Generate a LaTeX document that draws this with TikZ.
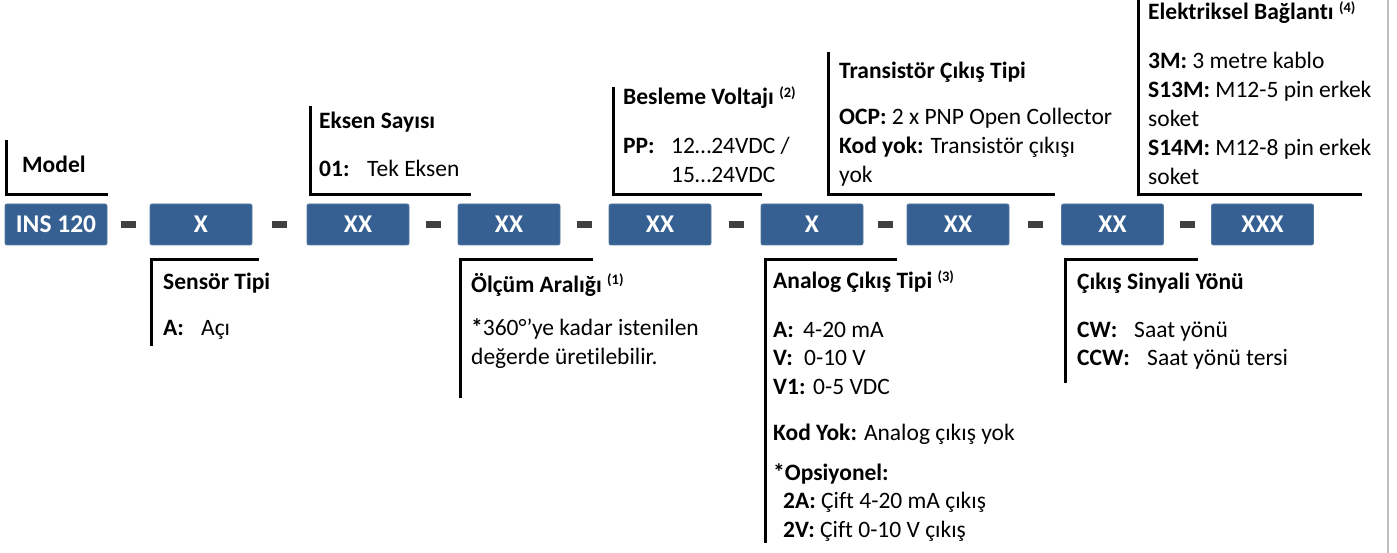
\documentclass[tikz,border=0pt]{standalone}
\usepackage{fontspec}
\setmainfont[Ligatures=NoCommon]{Carlito}
\usetikzlibrary{calc}
\definecolor{boxblue}{RGB}{54,96,146}
\definecolor{dashgray}{RGB}{64,64,64}
\definecolor{edgegray}{RGB}{191,191,191}
\newcommand{\supnum}[1]{\raisebox{0.3em}{\fontsize{14.5}{14.5}\selectfont\bfseries(#1)}}
\begin{document}
\begin{tikzpicture}[x=1pt,y=-1pt,
 codebox/.style={fill=boxblue, draw=boxblue!85!white, line width=0.8pt, rounded corners=2pt,
   minimum width=102pt, minimum height=41pt, inner sep=0pt, text=white,
   font=\fontsize{25.5}{25.5}\selectfont\bfseries},
 sepbar/.style={fill=dashgray, minimum width=15pt, minimum height=7pt, inner sep=0pt},
 bracket/.style={line width=3pt, draw=black},
 txt/.style={anchor=base west, inner sep=0pt, font=\fontsize{23.5}{28}\selectfont},
 ttl/.style={txt, font=\fontsize{23.5}{28}\selectfont\bfseries},
]
\useasboundingbox (0,0) rectangle (1397,553);
\fill[white] (0,0) rectangle (1397,553);
\draw[edgegray, line width=2pt] (1388,0) -- (1388,553);

% code boxes
\node[codebox] (b1) at (56,224.5) {INS 120};
\node[codebox] (b2) at (201,224.5) {X};
\node[codebox] (b3) at (358,224.5) {XX};
\node[codebox] (b4) at (509,224.5) {XX};
\node[codebox] (b5) at (660,224.5) {XX};
\node[codebox] (b6) at (812,224.5) {X};
\node[codebox] (b7) at (958,224.5) {XX};
\node[codebox] (b8) at (1112.5,224.5) {XX};
\node[codebox] (b9) at (1262.5,224.5) {XXX};

% separators
\node[sepbar] (s1) at ($(b1.east)!0.5!(b2.west)$) {};
\node[sepbar] (s2) at ($(b2.east)!0.5!(b3.west)$) {};
\node[sepbar] (s3) at ($(b3.east)!0.5!(b4.west)$) {};
\node[sepbar] (s4) at ($(b4.east)!0.5!(b5.west)$) {};
\node[sepbar] (s5) at ($(b5.east)!0.5!(b6.west)$) {};
\node[sepbar] (s6) at ($(b6.east)!0.5!(b7.west)$) {};
\node[sepbar] (s7) at ($(b7.east)!0.5!(b8.west)$) {};
\node[sepbar] (s8) at ($(b8.east)!0.5!(b9.west)$) {};

% top brackets
\draw[bracket] (6.5,140) |- (108,194.5);
\draw[bracket] (310,106) |- (471,194.5);
\draw[bracket] (613,87) |- (762,194.5);
\draw[bracket] (828,52) |- (1055,194.5);
\draw[bracket] (1138,0) |- (1362,194.5);

% bottom brackets
\draw[bracket] (259,260) -| (151.5,346);
\draw[bracket] (593,260) -| (460,398);
\draw[bracket] (897,260) -| (765,543);
\draw[bracket] (1198,260) -| (1065,383);

% Model
\node[ttl] (tmodel) at (22,173) {Model};

% Eksen Sayisi
\node[ttl] (teksen) at (319,129) {Eksen Sayısı};
\node[ttl] (eksk) at (319,177) {01:};
\node[txt] (eksv) at (367,177) {Tek Eksen};

% Besleme
\node[ttl] (tbes) at (623,105) {Besleme Voltajı \supnum{2}};
\node[ttl] (besk) at (623,154) {PP:};
\node[txt] (besv1) at (671,154) {12…24VDC /};
\node[txt] (besv2) at (671,183) {15…24VDC};

% Transistor
\node[ttl] (ttra) at (839,79) {Transistör Çıkış Tipi};
\node[txt] (tra1) at (839,125) {\textbf{OCP:} 2 x PNP Open Collector};
\node[txt] (tra2) at (839,154) {\textbf{Kod yok:} Transistör çıkışı};
\node[txt] (tra3) at (839,183) {yok};

% Elektriksel
\node[ttl] (tel) at (1148,20) {Elektriksel Bağlantı \supnum{4}};
\node[txt] (el1) at (1148,69) {\textbf{3M:} 3 metre kablo};
\node[txt] (el2) at (1148,98) {\textbf{S13M:} M12-5 pin erkek};
\node[txt] (el3) at (1148,127) {soket};
\node[txt] (el4) at (1148,156) {\textbf{S14M:} M12-8 pin erkek};
\node[txt] (el5) at (1148,185) {soket};

% Sensor Tipi
\node[ttl] (tsen) at (163,290) {Sensör Tipi};
\node[ttl] (senk) at (163,335) {A:};
\node[txt] (senv) at (201,335) {Açı};

% Olcum Araligi
\node[ttl] (tolc) at (471,292) {Ölçüm Aralığı \supnum{1}};
\node[txt] (olc1) at (471,335) {\textbf{*}360°’ye kadar istenilen};
\node[txt] (olc2) at (471,364) {değerde üretilebilir.};

% Analog
\node[ttl] (tana) at (773,289) {Analog Çıkış Tipi \supnum{3}};
\node[ttl] (anak1) at (773,337) {A:};
\node[txt] (anav1) at (803,337) {4-20 mA};
\node[ttl] (anak2) at (773,365) {V:};
\node[txt] (anav2) at (804,365) {0-10 V};
\node[ttl] (anak3) at (773,394) {V1:};
\node[txt] (anav3) at (813,394) {0-5 VDC};
\node[txt] (ana4) at (773,440) {\textbf{Kod Yok:} Analog çıkış yok};
\node[ttl] (ana5) at (773,480) {*Opsiyonel:};
\node[txt] (ana6) at (783,508) {\textbf{2A:} Çift 4-20 mA çıkış};
\node[txt] (ana7) at (783,537) {\textbf{2V:} Çift 0-10 V çıkış};

% Cikis Sinyali Yonu
\node[ttl] (tcik) at (1077,290) {Çıkış Sinyali Yönü};
\node[ttl] (cikk1) at (1077,337) {CW:};
\node[txt] (cikv1) at (1134,337) {Saat yönü};
\node[ttl] (cikk2) at (1077,365) {CCW:};
\node[txt] (cikv2) at (1147,365) {Saat yönü tersi};
\end{tikzpicture}
\end{document}
